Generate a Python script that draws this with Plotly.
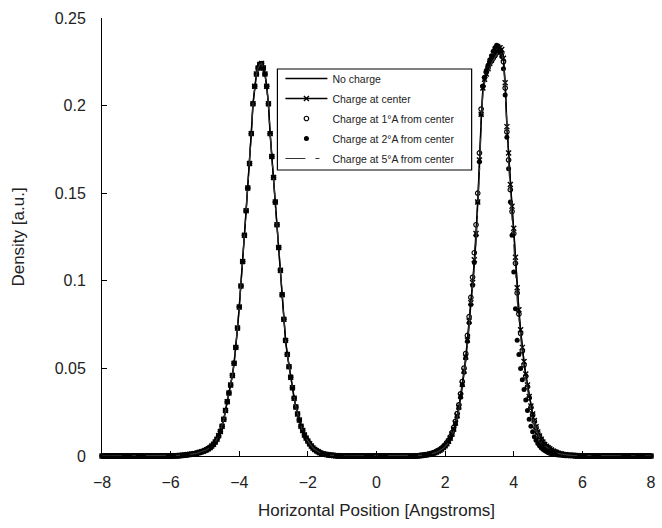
import plotly.graph_objects as go

# Sampling grid (Angstroms), step 0.05
x_pos = [round(-8 + 0.05 * i, 2) for i in range(321)]

# x = -8.00 ... -5.95 (flat)
left_tail = [0] * 42
# Left peak, x = -5.90 ... -1.10 (same for every case)
left_peak = [0.0001, 0.0001, 0.0002, 0.0002, 0.0003, 0.0004, 0.0005, 0.0006, 0.0008, 0.0009,
             0.0010, 0.0011, 0.0013, 0.0015, 0.0018, 0.0021, 0.0024, 0.0027, 0.0031, 0.0036,
             0.0042, 0.0049, 0.0057, 0.0067, 0.0080, 0.0096, 0.0115, 0.0140, 0.0170, 0.0210,
             0.0260, 0.0310, 0.0360, 0.0405, 0.0460, 0.0530, 0.0620, 0.0730, 0.0850, 0.0970,
             0.1110, 0.1260, 0.1400, 0.1530, 0.1670, 0.1840, 0.2010, 0.2110, 0.2180, 0.2215,
             0.2235, 0.2240, 0.2215, 0.2180, 0.2110, 0.2010, 0.1840, 0.1710, 0.1590, 0.1450,
             0.1320, 0.1190, 0.1060, 0.0920, 0.0780, 0.0660, 0.0580, 0.0510, 0.0450, 0.0390,
             0.0330, 0.0280, 0.0240, 0.0205, 0.0170, 0.0145, 0.0120, 0.0102, 0.0085, 0.0070,
             0.0057, 0.0046, 0.0037, 0.0030, 0.0024, 0.0019, 0.0015, 0.0012, 0.0010, 0.0008,
             0.0006, 0.0005, 0.0004, 0.0003, 0.0002, 0.0001, 0.0001]
# x = -1.05 ... 1.15 (flat)
mid_flat = [0] * 45
# Right peak, x = 1.20 ... 5.90, per case
right_no_charge = [0.0001, 0.0002, 0.0003, 0.0004, 0.0005, 0.0006, 0.0008, 0.0010, 0.0012, 0.0015,
                   0.0018, 0.0022, 0.0026, 0.0032, 0.0038, 0.0046, 0.0055, 0.0067, 0.0080, 0.0098,
                   0.0120, 0.0148, 0.0180, 0.0222, 0.0270, 0.0330, 0.0400, 0.0470, 0.0550, 0.0645,
                   0.0750, 0.0850, 0.0960, 0.1090, 0.1240, 0.1420, 0.1650, 0.1920, 0.2090, 0.2140,
                   0.2170, 0.2200, 0.2230, 0.2250, 0.2270, 0.2285, 0.2300, 0.2315, 0.2320, 0.2310,
                   0.2260, 0.2120, 0.1890, 0.1720, 0.1530, 0.1410, 0.1290, 0.1120, 0.0940, 0.0820,
                   0.0710, 0.0610, 0.0530, 0.0460, 0.0400, 0.0335, 0.0280, 0.0237, 0.0200, 0.0165,
                   0.0135, 0.0113, 0.0095, 0.0079, 0.0065, 0.0055, 0.0047, 0.0040, 0.0033, 0.0028,
                   0.0023, 0.0019, 0.0016, 0.0013, 0.0011, 0.0009, 0.0007, 0.0006, 0.0005, 0.0004,
                   0.0003, 0.0003, 0.0002, 0.0002, 0.0001]
right_center = [0.0001, 0.0002, 0.0003, 0.0004, 0.0005, 0.0007, 0.0008, 0.0010, 0.0013, 0.0016,
                0.0019, 0.0023, 0.0028, 0.0033, 0.0040, 0.0048, 0.0058, 0.0070, 0.0084, 0.0102,
                0.0125, 0.0154, 0.0188, 0.0230, 0.0280, 0.0342, 0.0410, 0.0485, 0.0565, 0.0662,
                0.0770, 0.0875, 0.0990, 0.1120, 0.1270, 0.1450, 0.1690, 0.1950, 0.2100, 0.2150,
                0.2180, 0.2210, 0.2240, 0.2260, 0.2280, 0.2295, 0.2310, 0.2325, 0.2330, 0.2320,
                0.2270, 0.2130, 0.1880, 0.1730, 0.1550, 0.1425, 0.1300, 0.1135, 0.0960, 0.0835,
                0.0720, 0.0620, 0.0540, 0.0468, 0.0405, 0.0340, 0.0285, 0.0240, 0.0202, 0.0167,
                0.0137, 0.0114, 0.0096, 0.0080, 0.0066, 0.0056, 0.0048, 0.0041, 0.0034, 0.0029,
                0.0024, 0.0020, 0.0016, 0.0013, 0.0011, 0.0009, 0.0007, 0.0006, 0.0005, 0.0004,
                0.0003, 0.0003, 0.0002, 0.0002, 0.0001]
right_1A = [0.0001, 0.0002, 0.0003, 0.0004, 0.0006, 0.0007, 0.0009, 0.0011, 0.0014, 0.0017,
            0.0021, 0.0026, 0.0031, 0.0037, 0.0044, 0.0053, 0.0063, 0.0076, 0.0090, 0.0110,
            0.0133, 0.0163, 0.0198, 0.0242, 0.0292, 0.0355, 0.0425, 0.0502, 0.0585, 0.0688,
            0.0795, 0.0905, 0.1020, 0.1160, 0.1320, 0.1500, 0.1730, 0.1980, 0.2110, 0.2160,
            0.2190, 0.2215, 0.2240, 0.2255, 0.2270, 0.2285, 0.2300, 0.2308, 0.2310, 0.2300,
            0.2250, 0.2100, 0.1850, 0.1690, 0.1520, 0.1395, 0.1270, 0.1100, 0.0930, 0.0810,
            0.0700, 0.0600, 0.0520, 0.0455, 0.0395, 0.0332, 0.0278, 0.0235, 0.0198, 0.0163,
            0.0134, 0.0112, 0.0094, 0.0078, 0.0064, 0.0054, 0.0046, 0.0039, 0.0032, 0.0027,
            0.0022, 0.0018, 0.0015, 0.0012, 0.0010, 0.0008, 0.0007, 0.0005, 0.0004, 0.0004,
            0.0003, 0.0003, 0.0002, 0.0002, 0.0001]
right_2A = [0.0001, 0.0002, 0.0003, 0.0004, 0.0005, 0.0006, 0.0008, 0.0010, 0.0012, 0.0015,
            0.0018, 0.0022, 0.0027, 0.0033, 0.0039, 0.0047, 0.0056, 0.0068, 0.0082, 0.0100,
            0.0122, 0.0150, 0.0184, 0.0226, 0.0275, 0.0336, 0.0405, 0.0478, 0.0560, 0.0655,
            0.0760, 0.0865, 0.0975, 0.1105, 0.1260, 0.1450, 0.1680, 0.1950, 0.2110, 0.2160,
            0.2200, 0.2230, 0.2260, 0.2285, 0.2310, 0.2330, 0.2345, 0.2340, 0.2320, 0.2280,
            0.2210, 0.2060, 0.1820, 0.1640, 0.1450, 0.1260, 0.1050, 0.0840, 0.0660, 0.0580,
            0.0500, 0.0435, 0.0380, 0.0320, 0.0260, 0.0210, 0.0170, 0.0138, 0.0110, 0.0090,
            0.0072, 0.0058, 0.0047, 0.0038, 0.0031, 0.0025, 0.0020, 0.0016, 0.0013, 0.0011,
            0.0009, 0.0007, 0.0006, 0.0005, 0.0004, 0.0003, 0.0002, 0.0002, 0.0001, 0.0001,
            0.0001, 0, 0, 0, 0]
right_5A = [0.0001, 0.0001, 0.0002, 0.0003, 0.0004, 0.0005, 0.0007, 0.0009, 0.0011, 0.0014,
            0.0017, 0.0021, 0.0025, 0.0030, 0.0036, 0.0044, 0.0053, 0.0064, 0.0077, 0.0095,
            0.0116, 0.0143, 0.0175, 0.0215, 0.0262, 0.0320, 0.0390, 0.0460, 0.0540, 0.0635,
            0.0735, 0.0835, 0.0945, 0.1070, 0.1220, 0.1400, 0.1620, 0.1890, 0.2070, 0.2130,
            0.2160, 0.2190, 0.2220, 0.2240, 0.2260, 0.2275, 0.2290, 0.2310, 0.2320, 0.2305,
            0.2250, 0.2100, 0.1840, 0.1670, 0.1500, 0.1370, 0.1230, 0.1060, 0.0890, 0.0775,
            0.0670, 0.0580, 0.0500, 0.0435, 0.0375, 0.0318, 0.0265, 0.0225, 0.0188, 0.0156,
            0.0128, 0.0107, 0.0090, 0.0075, 0.0062, 0.0052, 0.0044, 0.0037, 0.0031, 0.0026,
            0.0021, 0.0018, 0.0015, 0.0012, 0.0010, 0.0008, 0.0007, 0.0005, 0.0004, 0.0004,
            0.0003, 0.0003, 0.0002, 0.0002, 0.0001]
# x = 5.95 ... 8.00 (flat)
right_tail = [0] * 42

no_charge = left_tail + left_peak + mid_flat + right_no_charge + right_tail
charge_center = left_tail + left_peak + mid_flat + right_center + right_tail
charge_1A = left_tail + left_peak + mid_flat + right_1A + right_tail
charge_2A = left_tail + left_peak + mid_flat + right_2A + right_tail
charge_5A = left_tail + left_peak + mid_flat + right_5A + right_tail
for s in (no_charge, charge_center, charge_1A, charge_2A, charge_5A):
    assert len(s) == len(x_pos), len(s)

x_ticks = [-8, -6, -4, -2, 0, 2, 4, 6, 8]
y_ticks = [0, 0.05, 0.1, 0.15, 0.2, 0.25]
y_labels = ["0", "0.05", "0.1", "0.15", "0.2", "0.25"]

FONT = "Liberation Sans, Arial, Helvetica, sans-serif"
TXT = "#222222"

fig = go.Figure()
fig.add_trace(go.Scatter(x=x_pos, y=no_charge, mode="lines", name="No charge", legendgroup="a",
                         line=dict(color="black", width=1.5), cliponaxis=False))
fig.add_trace(go.Scatter(x=x_pos, y=charge_center, mode="lines+markers", name="Charge at center",
                         legendgroup="b",
                         line=dict(color="black", width=1.3),
                         marker=dict(symbol="x-thin", size=5, color="black",
                                     line=dict(color="black", width=1.4)),
                         cliponaxis=False))
fig.add_trace(go.Scatter(x=x_pos, y=charge_1A, mode="markers", name="Charge at 1°A from center",
                         legendgroup="c",
                         marker=dict(symbol="circle-open", size=4.5, color="black",
                                     line=dict(color="black", width=1.2)),
                         cliponaxis=False))
fig.add_trace(go.Scatter(x=x_pos, y=charge_2A, mode="markers", name="Charge at 2°A from center",
                         legendgroup="d",
                         marker=dict(symbol="circle", size=5, color="black"),
                         cliponaxis=False))
fig.add_trace(go.Scatter(x=x_pos, y=charge_5A, mode="lines", name="Charge at 5°A from center",
                         legendgroup="e",
                         line=dict(color="#333333", width=1.2, dash="20px,10px,4px,10px"),
                         cliponaxis=False))

# legend frame
fig.add_shape(type="rect", xref="paper", yref="paper", x0=0.3195, x1=0.6733, y0=0.653, y1=0.8836,
              line=dict(color="black", width=1.2), fillcolor="white", layer="above")

fig.update_layout(
    width=662, height=528,
    margin=dict(l=102, r=6, t=18, b=72),
    paper_bgcolor="white", plot_bgcolor="white",
    font=dict(family=FONT, color=TXT),
    showlegend=True,
    legend=dict(x=0.325, y=0.895, xanchor="left", yanchor="top",
                bgcolor="rgba(0,0,0,0)", borderwidth=0,
                font=dict(size=10.5, family=FONT, color=TXT),
                itemwidth=42, tracegroupgap=1),
    xaxis=dict(range=[-8, 8], tickvals=x_ticks, ticks="inside", ticklen=5, tickcolor="black",
               showline=True, linecolor="black", linewidth=1, showgrid=False, zeroline=False,
               tickfont=dict(size=16, family=FONT, color=TXT),
               ticklabelstandoff=12,
               title=dict(text="Horizontal Position [Angstroms]",
                          font=dict(size=17, family=FONT, color=TXT), standoff=13)),
    yaxis=dict(range=[0, 0.25], tickvals=y_ticks, ticktext=y_labels, ticks="inside", ticklen=5,
               tickcolor="black", showline=True, linecolor="black", linewidth=1,
               showgrid=False, zeroline=False,
               tickfont=dict(size=16, family=FONT, color=TXT),
               ticklabelstandoff=12,
               title=dict(text="Density [a.u.]",
                          font=dict(size=17, family=FONT, color=TXT), standoff=25)),
)

fig.write_html("out.html")
